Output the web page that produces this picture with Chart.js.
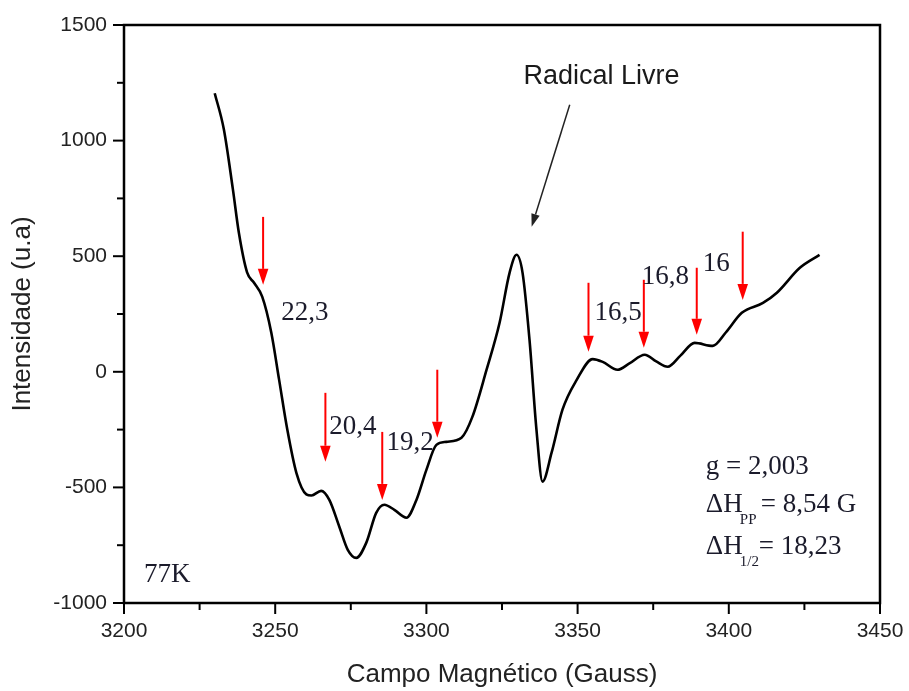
<!DOCTYPE html>
<html>
<head>
<meta charset="utf-8">
<script src="https://cdn.jsdelivr.net/npm/chart.js@4.4.1/dist/chart.umd.min.js"></script>
<style>
  body { margin: 0; background: #fff; }
  #wrap { width: 909px; height: 691px; }
</style>
</head>
<body>
<div id="wrap"><canvas id="myChart"></canvas></div>
<script>
// EPR spectrum at 77K

// magnetic field (Gauss)
const field = [3230, 3233, 3236, 3238, 3240.7, 3243, 3245.7, 3248.7, 3251.3, 3254, 3257, 3260.3, 3262,
  3265.2, 3267.9, 3271.2, 3274, 3276.8, 3280.1, 3283.4, 3286.1, 3289.4, 3293.4, 3296.7, 3300, 3303.3,
  3306.6, 3311.6, 3315.2, 3319.9, 3324.2, 3327.5, 3329.8, 3331.8, 3334.1, 3336.4, 3338.4, 3341.4, 3345,
  3349.7, 3355, 3358.3, 3363.2, 3367, 3372.2, 3376, 3379.8, 3384, 3388.7, 3394.7, 3399, 3404.3, 3411.3,
  3415.9, 3423.5, 3430];
// intensity (u.a)
const intensity = [1205, 1050, 790, 600, 430, 385, 325, 170, -35, -250, -437, -530, -535,
  -515, -554, -670, -770, -805, -740, -610, -575, -597, -631, -554, -424, -316,
  -303, -285, -195, 9, 212, 428, 506, 428, 138, -251, -475, -350, -164,
  -35, 55, 43, 9, 35, 74, 45, 22, 70, 125, 112, 170, 255, 298,
  342, 450, 506];

// red arrows: field position, start and tip intensity
const arrowField = [3246, 3266.6, 3285.4, 3303.6, 3353.6, 3371.9, 3389.4, 3404.6];
const arrowTop = [670, -91, -260, 9, 385, 398, 450, 606];
const arrowTip = [376, -389, -554, -285, 87, 104, 160, 311];

// hyperfine labels: text, field (left edge), intensity (middle)
const hfText = ["22,3", "20,4", "19,2", "16,5", "16,8", "16"];
const hfField = [3252, 3267.9, 3286.8, 3355.6, 3371.2, 3391.4];
const hfValue = [255, -238, -307, 255, 411, 467];

const points = field.map((f, i) => ({ x: f, y: intensity[i] }));

function drawArrow(ctx, x1, y1, x2, y2, color, head, width) {
  const ang = Math.atan2(y2 - y1, x2 - x1);
  const bx = x2 - head * Math.cos(ang);
  const by = y2 - head * Math.sin(ang);
  const w = head * 0.33;
  ctx.strokeStyle = color;
  ctx.fillStyle = color;
  ctx.lineWidth = width;
  ctx.beginPath();
  ctx.moveTo(x1, y1);
  ctx.lineTo(bx, by);
  ctx.stroke();
  ctx.beginPath();
  ctx.moveTo(x2, y2);
  ctx.lineTo(bx + w * Math.sin(ang), by - w * Math.cos(ang));
  ctx.lineTo(bx - w * Math.sin(ang), by + w * Math.cos(ang));
  ctx.closePath();
  ctx.fill();
}

// frame, ticks and annotations
const decor = {
  id: "decor",
  afterDraw(chart) {
    const { ctx, chartArea: a, scales: { x, y } } = chart;
    ctx.save();

    // ticks (major + minor)
    ctx.strokeStyle = "#000";
    ctx.lineWidth = 2;
    x.ticks.forEach((t) => {
      const px = x.getPixelForValue(t.value);
      const len = t.value % 50 === 0 ? 11 : 7;
      ctx.beginPath();
      ctx.moveTo(px, a.bottom);
      ctx.lineTo(px, a.bottom + len);
      ctx.stroke();
    });
    y.ticks.forEach((t) => {
      const py = y.getPixelForValue(t.value);
      const len = t.value % 500 === 0 ? 11 : 7;
      ctx.beginPath();
      ctx.moveTo(a.left, py);
      ctx.lineTo(a.left - len, py);
      ctx.stroke();
    });

    // box
    ctx.lineWidth = 2.5;
    ctx.strokeRect(a.left, a.top, a.right - a.left, a.bottom - a.top);

    // red arrows
    arrowField.forEach((f, i) => {
      const px = x.getPixelForValue(f);
      drawArrow(ctx, px, y.getPixelForValue(arrowTop[i]), px, y.getPixelForValue(arrowTip[i]), "#ff0000", 16, 2);
    });

    // hyperfine labels
    ctx.fillStyle = "#1b1b2b";
    ctx.font = "27px 'Liberation Serif'";
    ctx.textAlign = "left";
    ctx.textBaseline = "middle";
    hfText.forEach((s, i) => {
      ctx.fillText(s, x.getPixelForValue(hfField[i]), y.getPixelForValue(hfValue[i]));
    });

    // temperature
    ctx.fillText("77K", x.getPixelForValue(3206.6), y.getPixelForValue(-878));

    // parameters
    const px0 = x.getPixelForValue(3392.4);
    ctx.fillText("g = 2,003", px0, y.getPixelForValue(-411));
    let py = y.getPixelForValue(-575);
    ctx.fillText("\u0394H", px0, py);
    ctx.font = "15px 'Liberation Serif'";
    ctx.fillText("PP", px0 + 34, py + 15);
    ctx.font = "27px 'Liberation Serif'";
    ctx.fillText("= 8,54 G", px0 + 55, py);
    py = y.getPixelForValue(-757);
    ctx.fillText("\u0394H", px0, py);
    ctx.font = "15px 'Liberation Serif'";
    ctx.fillText("1/2", px0 + 34, py + 15);
    ctx.font = "27px 'Liberation Serif'";
    ctx.fillText("= 18,23", px0 + 53, py);

    // free radical note
    ctx.font = "27px 'Liberation Sans'";
    ctx.textAlign = "center";
    ctx.fillStyle = "#1a1a1a";
    ctx.fillText("Radical Livre", x.getPixelForValue(3357.9), y.getPixelForValue(1276));
    drawArrow(ctx, x.getPixelForValue(3347.4), y.getPixelForValue(1155),
      x.getPixelForValue(3334.8), y.getPixelForValue(627), "#222", 13, 1.5);

    ctx.restore();
  },
};

const chart = document.getElementById("myChart");

const data = {
  datasets: [
    {
      label: "EPR 77K",
      data: points,
      borderColor: "#000",
      borderWidth: 2.6,
      pointRadius: 0,
      tension: 0.4,
      cubicInterpolationMode: "monotone",
      fill: false,
    },
  ],
};

const tickFont = { family: "'Liberation Sans'", size: 21 };
const titleFont = { family: "'Liberation Sans'", size: 26 };

const config = {
  type: "line",
  data: data,
  options: {
    responsive: true,
    maintainAspectRatio: false,
    animation: false,
    layout: { padding: { left: 0, right: 29, top: 25, bottom: 0 } },
    plugins: {
      legend: { display: false },
      tooltip: { enabled: false },
    },
    scales: {
      x: {
        type: "linear",
        min: 3200,
        max: 3450,
        border: { display: false },
        grid: { drawOnChartArea: false, drawTicks: true, tickLength: 11, color: "rgba(0,0,0,0)" },
        ticks: {
          stepSize: 25,
          autoSkip: false,
          maxRotation: 0,
          padding: 5,
          color: "#222",
          font: tickFont,
          callback: (v) => (v % 50 === 0 ? v : ""),
        },
        title: {
          display: true,
          text: "Campo Magnético (Gauss)",
          color: "#222",
          font: titleFont,
          padding: { top: 0, bottom: 1 },
        },
        afterFit: (s) => { s.height = 88; },
      },
      y: {
        min: -1000,
        max: 1500,
        border: { display: false },
        grid: { drawOnChartArea: false, drawTicks: true, tickLength: 11, color: "rgba(0,0,0,0)" },
        ticks: {
          stepSize: 250,
          autoSkip: false,
          padding: 6,
          color: "#222",
          font: tickFont,
          callback: (v) => (v % 500 === 0 ? v : ""),
        },
        title: {
          display: true,
          text: "Intensidade (u.a)",
          color: "#222",
          font: titleFont,
          padding: { top: 7, bottom: 0 },
        },
        afterFit: (s) => { s.width = 124; },
      },
    },
  },
  plugins: [decor],
};

new Chart(chart, config);
</script>
</body>
</html>
